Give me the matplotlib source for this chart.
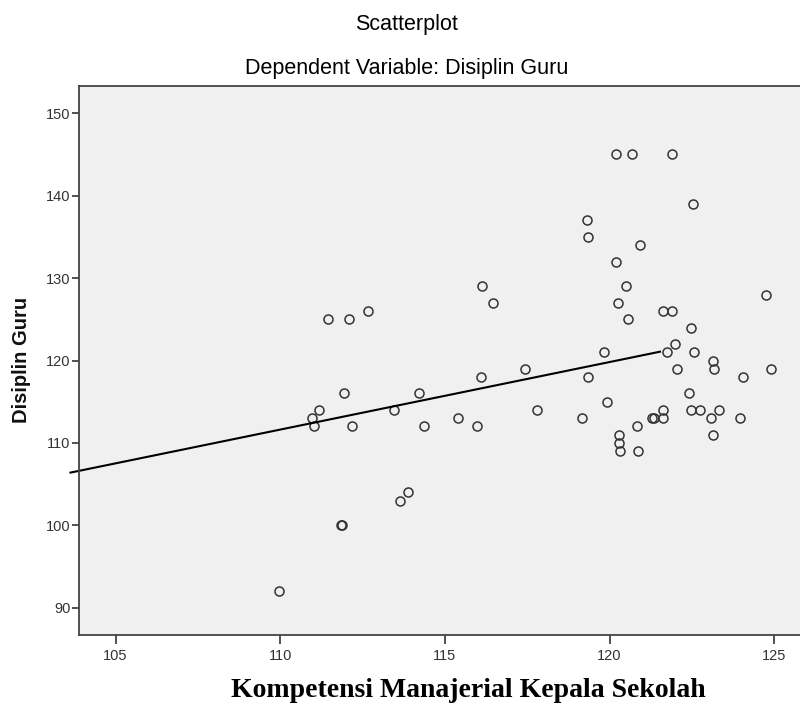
import matplotlib
matplotlib.use("Agg")
import matplotlib.pyplot as plt

plt.rcParams['font.family'] = ['Liberation Sans', 'DejaVu Sans']

# Kompetensi Manajerial Kepala Sekolah (x) vs Disiplin Guru (y)
kompetensi = [
    120.19, 120.69, 121.88, 122.54, 119.31, 119.34, 120.92, 120.18,
    116.14, 120.50, 116.47, 120.26, 111.46, 112.09, 112.67, 121.61,
    121.89, 120.57, 124.75, 122.48, 121.99, 121.73, 119.83, 122.55,
    123.13, 123.17, 122.05, 117.44, 124.89, 116.09, 119.34, 124.06,
    111.94, 111.18, 110.97, 111.02, 112.17, 113.46, 114.22, 114.35,
    115.40, 115.96, 117.78, 119.15, 119.93, 120.28, 120.28, 120.30,
    120.82, 120.87, 121.30, 121.35, 121.63, 121.63, 122.41, 122.47,
    122.75, 123.33, 123.07, 123.13, 123.96, 113.87, 113.63, 111.85,
    111.87, 109.95,
]
disiplin = [
    145, 145, 145, 139, 137, 135, 134, 132,
    129, 129, 127, 127, 125, 125, 126, 126,
    126, 125, 128, 124, 122, 121, 121, 121,
    120, 119, 119, 119, 119, 118, 118, 118,
    116, 114, 113, 112, 112, 114, 116, 112,
    113, 112, 114, 113, 115, 111, 110, 109,
    112, 109, 113, 113, 114, 113, 116, 114,
    114, 114, 113, 111, 113, 104, 103, 100,
    100, 92,
]

# fit line end points as drawn by SPSS
fit_x = [103.63, 121.53]
fit_y = [106.4, 121.07]

x_ticks = [105, 110, 115, 120, 125]
y_ticks = [90, 100, 110, 120, 130, 140, 150]

fig = plt.figure(figsize=(8, 7.11), dpi=100)
ax = fig.add_axes([0.09875, 0.1062, 0.90125, 0.7728])
ax.set_facecolor('#f0f0f0')

ax.plot(kompetensi, disiplin, linestyle='none', marker='o', markersize=6.5,
        markerfacecolor='none', markeredgecolor='#333333', markeredgewidth=1.1)
ax.plot(fit_x, fit_y, color='black', linewidth=1.5, clip_on=False)

ax.set_xlim(103.89, 125.78)
ax.set_ylim(86.64, 153.3)
ax.set_xticks(x_ticks)
ax.set_yticks(y_ticks)
ax.tick_params(axis='x', length=6.5, width=1.2, pad=3, labelsize=10.5, colors='#333333')
ax.tick_params(axis='y', length=5, width=1.2, pad=1, labelsize=10.5, colors='#333333')

for side in ['left', 'bottom', 'top']:
    ax.spines[side].set_color('#444444')
    ax.spines[side].set_linewidth(1.3)
ax.spines['right'].set_visible(False)

fig.text(0.508, 0.966, 'Scatterplot', ha='center', va='center', fontsize=15.5, color='black')
fig.text(0.508, 0.904, 'Dependent Variable: Disiplin Guru', ha='center', va='center',
         fontsize=15.5, color='black')
fig.text(0.0275, 0.494, 'Disiplin Guru', rotation=90, ha='center', va='center',
         fontsize=14.5, fontweight='bold', color='#111111')
fig.text(0.585, 0.0295, 'Kompetensi Manajerial Kepala Sekolah', ha='center', va='center',
         fontsize=20, fontweight='bold', family=['Liberation Serif', 'DejaVu Serif'])

plt.savefig('out.png', dpi=100)
